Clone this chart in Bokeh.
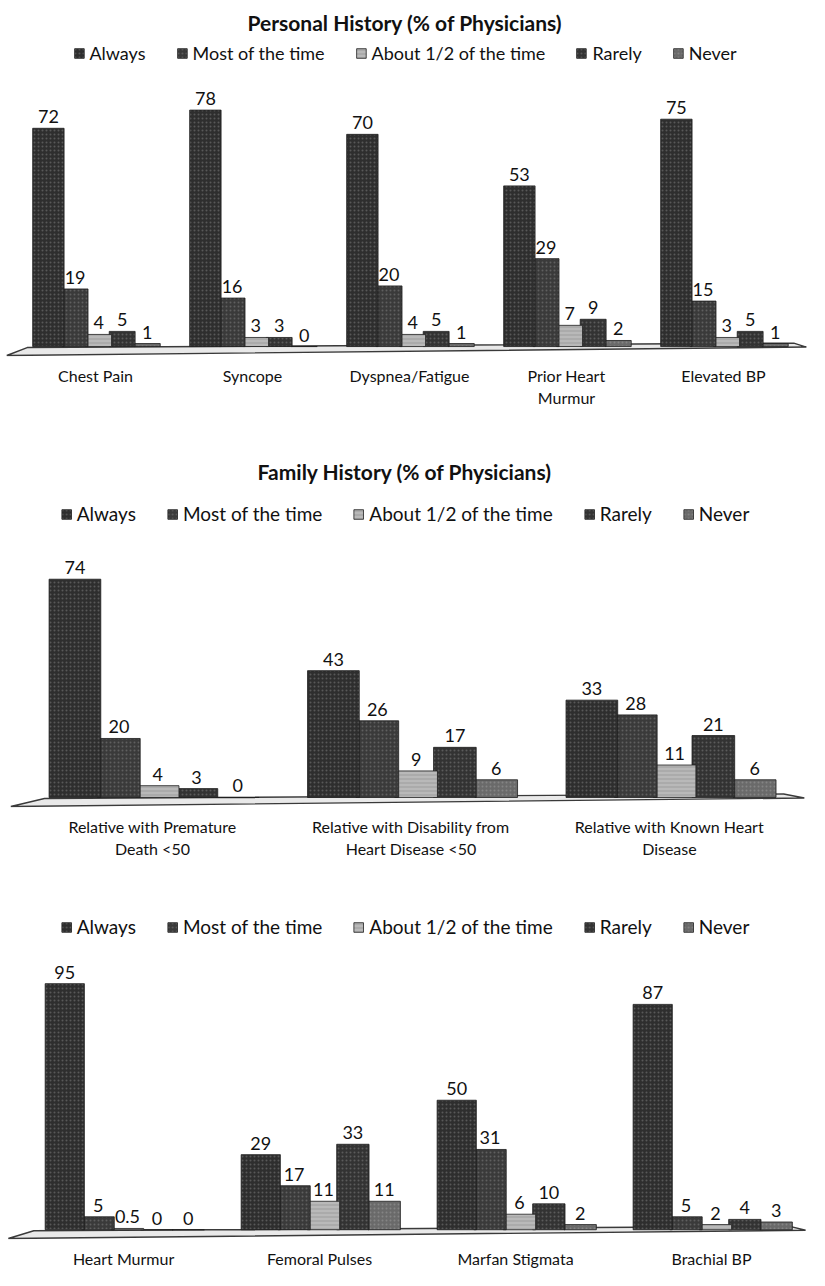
from bokeh.plotting import figure
from bokeh.layouts import column
from bokeh.models import ColumnDataSource, Legend, LegendItem, FixedTicker, Range1d
from bokeh.embed import file_html
from bokeh.resources import INLINE
from bokeh.core.properties import value

# ---------------- data ----------------
series_names = ["Always", "Most of the time", "About 1/2 of the time", "Rarely", "Never"]

personal_categories = ["Chest Pain", "Syncope", "Dyspnea/Fatigue", "Prior Heart\nMurmur", "Elevated BP"]
personal_always = [72, 78, 70, 53, 75]
personal_most = [19, 16, 20, 29, 15]
personal_half = [4, 3, 4, 7, 3]
personal_rarely = [5, 3, 5, 9, 5]
personal_never = [1, 0, 1, 2, 1]

family_categories = ["Relative with Premature\nDeath <50",
                     "Relative with Disability from\nHeart Disease <50",
                     "Relative with Known Heart\nDisease"]
family_always = [74, 43, 33]
family_most = [20, 26, 28]
family_half = [4, 9, 11]
family_rarely = [3, 17, 21]
family_never = [0, 6, 6]

exam_categories = ["Heart Murmur", "Femoral Pulses", "Marfan Stigmata", "Brachial BP"]
exam_always = [95, 29, 50, 87]
exam_most = [5, 17, 31, 5]
exam_half = [0.5, 11, 6, 2]
exam_rarely = [0, 33, 10, 4]
exam_never = [0, 11, 2, 3]

# ---------------- style ----------------
FONT = "Lato"
fills = ["#2e2e2e", "#3a3a3a", "#b9b9b9", "#333333", "#6a6a6a"]
hatches = ["dot", "dot", "horizontal_line", "dot", "dot"]
hatch_cols = ["#8c8c8c", "#8c8c8c", "#7d7d7d", "#8c8c8c", "#a5a5a5"]
offsets = [-0.30, -0.13, 0.02, 0.17, 0.33]
widths = [0.20, 0.165, 0.165, 0.165, 0.165]


def fmt(v):
    return f"{v:g}"


def make_panel(title, categories, series, height, xr, yr, top, bottom,
               title_standoff, legend_margin, label_size, legend_size, tick_size):
    p = figure(width=809, height=height, x_range=Range1d(*xr), y_range=Range1d(*yr),
               output_backend="svg", toolbar_location=None, y_axis_location=None,
               min_border_top=top, min_border_bottom=bottom,
               min_border_left=0, min_border_right=0, title=title)
    p.outline_line_color = None
    p.xgrid.visible = False
    p.ygrid.visible = False
    p.background_fill_color = "white"
    p.border_fill_color = "white"
    if title:
        p.title.align = "center"
        p.title.text_font = FONT
        p.title.text_font_style = "bold"
        p.title.text_font_size = "21px"
        p.title.text_color = "#111111"
        p.title.standoff = title_standoff

    n = len(categories)
    x0, x1 = xr
    y0 = yr[0]
    # sloped 3D-style floor under the bars
    p.patch([x0 + 0.04, x0 + 0.17, x1 - 0.10, x1 - 0.02],
            [y0 * 0.9, y0 * 0.1, -y0 * 0.35, y0 * 0.05],
            fill_color="#e9e9e9", line_color="#3a3a3a", line_width=1.4)

    order = [4, 3, 2, 1, 0]
    renderers = {}
    for k in order:
        vals = series[k]
        xs = [i + offsets[k] for i in range(n)]
        src = ColumnDataSource(dict(x=xs, top=vals, t=[fmt(v) for v in vals]))
        r = p.vbar(x="x", top="top", bottom=0, width=widths[k], source=src,
                   fill_color=fills[k], line_color="#1e1e1e", line_width=0.8,
                   hatch_pattern=hatches[k], hatch_color=hatch_cols[k],
                   hatch_alpha=0.45, hatch_scale=4, hatch_weight=1)
        renderers[k] = r
        p.text(x="x", y="top", text="t", source=src, text_align="center",
               text_baseline="bottom", y_offset=-5, text_font=value(FONT),
               text_font_size=label_size, text_color="#111111")

    legend = Legend(items=[LegendItem(label=series_names[k], renderers=[renderers[k]])
                           for k in range(5)],
                    location="top_center", orientation="horizontal",
                    border_line_color=None, background_fill_alpha=0,
                    label_text_font=FONT, label_text_font_size=legend_size,
                    label_text_color="#111111", glyph_width=12, glyph_height=12,
                    label_standoff=5, spacing=30, padding=0, margin=legend_margin)
    p.add_layout(legend)

    ax = p.xaxis[0]
    ax.ticker = FixedTicker(ticks=list(range(n)))
    ax.major_label_overrides = {i: c for i, c in enumerate(categories)}
    ax.axis_line_color = None
    ax.major_tick_line_color = None
    ax.minor_tick_line_color = None
    ax.major_label_standoff = 3
    ax.major_label_text_font = FONT
    ax.major_label_text_font_size = tick_size
    ax.major_label_text_color = "#111111"
    return p


p1 = make_panel("Personal History (% of Physicians)", personal_categories,
                [personal_always, personal_most, personal_half, personal_rarely, personal_never],
                432, (-0.605, 4.548), (-3.28, 100.3), 40, 76, 15, 0, "18px", "18px", "16px")
p2 = make_panel("Family History (% of Physicians)", family_categories,
                [family_always, family_most, family_half, family_rarely, family_never],
                450, (-0.588, 2.542), (-3.4, 103.4), 60, 75, 17, 10, "18px", "19px", "16px")
p3 = make_panel(None, exam_categories,
                [exam_always, exam_most, exam_half, exam_rarely, exam_never],
                388, (-0.628, 3.5), (-3.76, 124.4), 25, 22, 0, 8, "18px", "19px", "16px")

layout = column(p1, p2, p3, spacing=0)
open("out.html", "w").write(file_html(layout, INLINE))
